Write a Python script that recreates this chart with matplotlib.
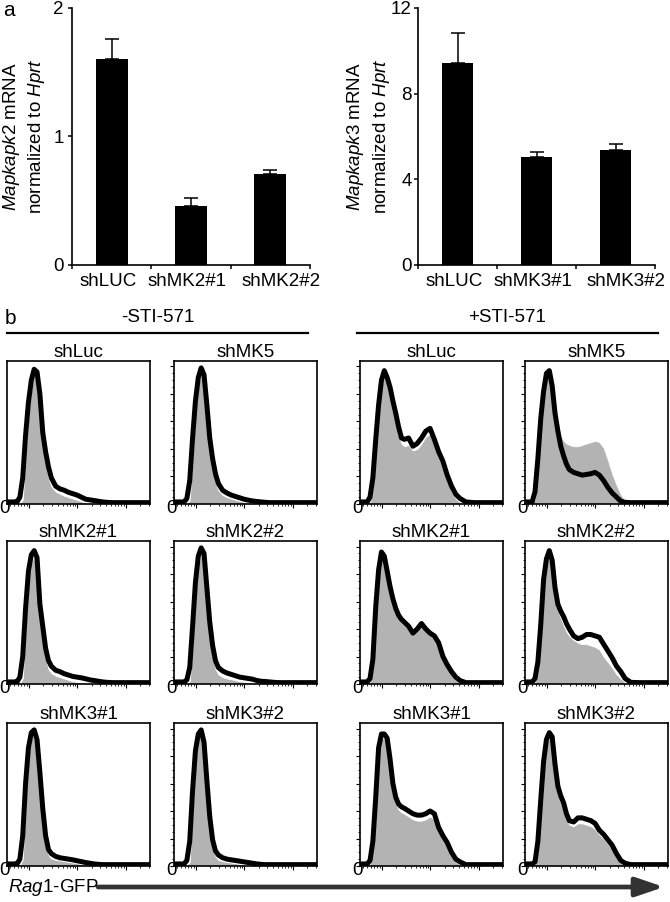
import numpy as np
import matplotlib
matplotlib.use('Agg')
import matplotlib.pyplot as plt
from matplotlib.lines import Line2D
from matplotlib.patches import FancyArrowPatch
from matplotlib.ticker import LogLocator, MultipleLocator, NullFormatter, FixedLocator

plt.rcParams['font.family'] = 'Liberation Sans'
plt.rcParams['mathtext.fontset'] = 'custom'
plt.rcParams['mathtext.rm'] = 'Liberation Sans'
plt.rcParams['mathtext.it'] = 'Liberation Sans:italic'
plt.rcParams['font.size'] = 13.5

# ---- panel a: qPCR ----
mk2_groups = ['shLUC', 'shMK2#1', 'shMK2#2']
mk2_mean = [1.60, 0.46, 0.71]
mk2_err = [0.16, 0.06, 0.03]

mk3_groups = ['shLUC', 'shMK3#1', 'shMK3#2']
mk3_mean = [9.45, 5.05, 5.35]
mk3_err = [1.40, 0.22, 0.30]

# ---- panel b: Rag1-GFP histograms (% of max) ----
hist_titles = ['shLuc', 'shMK5', 'shMK2#1', 'shMK2#2', 'shMK3#1', 'shMK3#2']
block_titles = ['-STI-571', '+STI-571']

# bin position as fraction of the displayed (log) GFP range
gfp_pos = [0.00, 0.05, 0.07, 0.09, 0.11, 0.13, 0.15, 0.17, 0.19, 0.21, 0.23,
           0.25, 0.27, 0.29, 0.31, 0.34, 0.37, 0.40, 0.43, 0.46, 0.49, 0.52,
           0.55, 0.58, 0.61, 0.64, 0.67, 0.70, 0.74, 0.80, 0.90, 1.00]
GFP_LO, GFP_HI = 1.55, 4.5   # log10 limits of the axis

minus_black = [
    [1.5, 1.5, 1.5, 5, 19, 50, 74, 90, 98, 96, 80, 52, 38, 27, 19, 13, 11, 10, 8.5, 7.5, 6.5, 5, 3.5, 3, 2.5, 2, 1.5, 1.2, 1, 1, 1, 1],
    [1.5, 1.5, 1.5, 4, 17, 48, 75, 92, 99, 94, 72, 48, 33, 22, 15, 10, 8, 6.5, 5.5, 4.5, 3.5, 2.8, 2.2, 1.8, 1.5, 1.2, 1, 1, 1, 1, 1, 1],
    [1.5, 1.5, 1.5, 5, 20, 55, 82, 94, 97, 92, 58, 42, 26, 17, 13, 10, 9, 7.5, 6.5, 5.5, 5, 4.5, 3.8, 3, 2.5, 2, 1.5, 1.2, 1, 1, 1, 1],
    [1.5, 1.5, 1.5, 3, 12, 42, 74, 93, 99, 95, 70, 45, 28, 17, 12, 9.5, 8, 7, 6, 5, 4.5, 4, 3.5, 2.5, 2, 1.8, 1.5, 1.2, 1, 1, 1, 1],
    [1.5, 1.5, 1.5, 5, 22, 60, 86, 97, 99, 92, 68, 42, 22, 12, 9, 7, 6, 5.5, 5, 4.5, 3.8, 3.2, 2.5, 2, 1.5, 1.2, 1, 1, 1, 1, 1, 1],
    [1.5, 1.5, 1.5, 4, 18, 55, 84, 96, 99, 90, 62, 36, 19, 11, 8, 6, 5, 4.5, 4, 3.5, 3, 2.5, 2, 1.5, 1.2, 1, 1, 1, 1, 1, 1, 1],
]
minus_gray = [
    [0, 0, 0, 0.5, 3, 35, 64, 84, 95, 94, 76, 46, 30, 19, 13, 9, 7.5, 6, 5, 4, 3, 2, 1, 0.5, 0, 0, 0, 0, 0, 0, 0, 0],
    [0, 0, 0, 0.5, 3, 34, 66, 86, 95, 90, 68, 42, 27, 16, 10, 6.5, 5, 4, 3, 2.2, 1.5, 1, 0.5, 0, 0, 0, 0, 0, 0, 0, 0, 0],
    [0, 0, 0, 0.5, 4, 40, 72, 88, 93, 88, 52, 34, 19, 11, 8, 6, 5, 4, 3, 2, 1.5, 1, 0.5, 0, 0, 0, 0, 0, 0, 0, 0, 0],
    [0, 0, 0, 0, 2, 28, 64, 86, 95, 90, 64, 38, 21, 11, 7, 5, 4, 3.5, 2.8, 2, 1.5, 1, 0.5, 0, 0, 0, 0, 0, 0, 0, 0, 0],
    [0, 0, 0, 0.5, 5, 45, 78, 93, 96, 88, 62, 35, 16, 8, 5.5, 4.5, 4, 3.5, 3, 2.5, 2, 1.5, 1, 0.5, 0, 0, 0, 0, 0, 0, 0, 0],
    [0, 0, 0, 0.5, 3, 40, 76, 92, 96, 86, 55, 30, 13, 7, 4.5, 3.5, 3, 2.5, 2, 1.5, 1, 0.5, 0, 0, 0, 0, 0, 0, 0, 0, 0, 0],
]
plus_black = [
    [1.5, 1.5, 5, 19, 47, 72, 90, 97, 92, 85, 75, 66, 56, 48, 47, 48, 42, 44, 48, 53, 55, 47, 38, 31, 21, 13, 7, 4, 1.5, 1, 1, 1],
    [1.5, 1.5, 9, 33, 62, 82, 95, 97, 86, 66, 53, 42, 35, 29, 25, 23, 22, 21, 21.5, 22, 23, 21, 17, 12, 8, 5, 2, 1.2, 1, 1, 1, 1],
    [1.5, 1.5, 4, 18, 56, 83, 96, 93, 82, 71, 62, 55, 50, 47, 45, 42, 37, 40, 44, 40, 37, 35, 30, 20, 14, 9, 5, 2.5, 1, 1, 1, 1],
    [1.5, 1.5, 4, 16, 43, 76, 91, 97, 90, 70, 58, 53, 49, 44, 40, 35, 33, 34, 36, 36, 35, 34, 29, 24, 19, 13, 9, 4, 1.2, 1, 1, 1],
    [1.5, 1.5, 4, 18, 50, 86, 96, 96, 93, 78, 60, 50, 45, 43, 42, 40, 38, 37, 37, 38, 40, 38, 28, 22, 17, 10, 5, 3, 1, 1, 1, 1],
    [1.5, 1.5, 3, 18, 48, 76, 92, 97, 94, 74, 58, 51, 46, 38, 33, 32, 35, 35, 34, 33, 31, 26, 23, 19, 15, 9, 4, 2, 1, 1, 1, 1],
]
plus_gray = [
    [0, 0, 1, 12, 38, 66, 86, 93, 88, 80, 70, 60, 50, 44, 42, 43, 39, 40, 44, 49, 51, 43, 34, 26, 17, 9, 4, 1, 0, 0, 0, 0],
    [0, 0, 4, 26, 56, 78, 92, 94, 85, 70, 58, 50, 46, 44, 43, 42, 42, 43, 44, 45, 46, 45, 41, 32, 22, 14, 7, 3, 0, 0, 0, 0],
    [0, 0, 1.5, 12, 50, 80, 93, 90, 80, 69, 60, 53, 48, 45, 43, 40, 37, 41, 45, 41, 36, 33, 28, 18, 12, 7, 3, 1, 0, 0, 0, 0],
    [0, 0, 1.5, 10, 38, 72, 88, 94, 88, 67, 54, 48, 43, 38, 35, 32, 30, 29, 29, 28, 27, 25, 20, 16, 12, 7, 4, 1, 0, 0, 0, 0],
    [0, 0, 1.5, 12, 44, 82, 93, 93, 90, 75, 56, 46, 41, 39, 38, 36, 34, 33, 33, 34, 36, 34, 25, 19, 14, 7, 3, 1, 0, 0, 0, 0],
    [0, 0, 1, 12, 42, 72, 89, 94, 91, 71, 55, 47, 42, 35, 30, 29, 31, 31, 30, 29, 27, 23, 20, 16, 12, 6, 2, 0.5, 0, 0, 0, 0],
]

W, H = 670, 902
fig = plt.figure(figsize=(W / 100, H / 100), dpi=100)


def px_axes(x0, y0, w, h):
    # pixel box (top-left origin) -> figure axes
    return fig.add_axes([x0 / W, 1 - (y0 + h) / H, w / W, h / H])


def bar_panel(ax, groups, mean, err, ymax, yticks, ylabel, tickpad, labx):
    x = np.arange(len(groups))
    ax.bar(x, mean, width=0.4, color='black')
    ax.errorbar(x, mean, yerr=[np.zeros(len(err)), err], fmt='none',
                ecolor='black', elinewidth=1.1, capsize=5, capthick=1.1)
    ax.set_xlim(-0.5, len(groups) - 0.5)
    ax.set_ylim(0, ymax)
    ax.set_yticks(yticks)
    ax.xaxis.set_major_locator(FixedLocator(np.arange(len(groups) + 1) - 0.5))
    ax.xaxis.set_major_formatter(NullFormatter())
    # labels sit a little off the bar centres, as in the original layout
    ax.set_xticks(x + np.array([-0.04, -0.05, 0.13]), minor=True)
    ax.set_xticklabels(groups, minor=True)
    ax.tick_params(axis='x', which='minor', length=0, pad=6)
    ax.tick_params(axis='both', which='major', direction='out', length=3, width=1.1)
    ax.tick_params(axis='y', pad=tickpad)
    for s in ['top', 'right']:
        ax.spines[s].set_visible(False)
    for s in ['left', 'bottom']:
        ax.spines[s].set_linewidth(1.2)
    ax.set_ylabel(ylabel, linespacing=1.3)
    ax.yaxis.set_label_coords(labx, 0.5)


ax1 = px_axes(72, 8, 238, 257)
bar_panel(ax1, mk2_groups, mk2_mean, mk2_err, 2, [0, 1, 2],
          '$\\it{Mapkapk2}$ mRNA\nnormalized to $\\it{Hprt}$', 3, -0.105)
ax2 = px_axes(418, 8, 237, 257)
bar_panel(ax2, mk3_groups, mk3_mean, mk3_err, 12, [0, 4, 8, 12],
          '$\\it{Mapkapk3}$ mRNA\nnormalized to $\\it{Hprt}$', 1.5, -0.11)

fig.text(3 / W, 1 - 10 / H, 'a', fontsize=15, va='center')
fig.text(5 / W, 1 - 318 / H, 'b', fontsize=15, va='center')

# ---- histograms ----
col_px = [7, 174, 360, 525]
row_px = [361, 541, 723]
box = 143
xs = 10 ** (GFP_LO + np.array(gfp_pos) * (GFP_HI - GFP_LO))

blocks = [(minus_gray, minus_black), (plus_gray, plus_black)]
for b, (gray_set, black_set) in enumerate(blocks):
    for k, title in enumerate(hist_titles):
        r, c = divmod(k, 2)
        ax = px_axes(col_px[2 * b + c], row_px[r], box, box)
        ax.fill_between(xs, gray_set[k], color='#b3b3b3', edgecolor='white', lw=0.6)
        ax.plot(xs, black_set[k], color='black', lw=3.6, solid_joinstyle='round')
        ax.set_xscale('log')
        ax.set_xlim(10 ** GFP_LO, 10 ** GFP_HI)
        ax.set_ylim(0, 104)
        ax.xaxis.set_major_locator(LogLocator(base=10))
        ax.xaxis.set_minor_locator(LogLocator(base=10, subs=np.arange(2, 10)))
        ax.xaxis.set_major_formatter(NullFormatter())
        ax.xaxis.set_minor_formatter(NullFormatter())
        ax.yaxis.set_major_locator(MultipleLocator(20))
        ax.yaxis.set_minor_locator(MultipleLocator(5))
        ax.yaxis.set_major_formatter(NullFormatter())
        ax.tick_params(which='major', direction='out', length=3, width=0.8)
        ax.tick_params(which='minor', direction='out', length=1.5, width=0.6)
        if 2 * b + c == 0:
            ax.tick_params(axis='y', which='both', length=0)
        for s in ax.spines.values():
            s.set_linewidth(1.2)
        ax.set_title(title, pad=3, fontsize=13.5)
        ax.text(-0.02, -0.03, '0', transform=ax.transAxes, ha='center', va='center',
                fontsize=13.5)

# block headers
for b, title in enumerate(block_titles):
    x0, x1 = [(7, 308), (357, 658)][b]
    fig.text((x0 + x1) / 2 / W, 1 - 317 / H, title, ha='center', va='center')
    fig.add_artist(Line2D([x0 / W, x1 / W], [1 - 333 / H] * 2,
                          transform=fig.transFigure, color='black', lw=1.6))

# Rag1-GFP arrow
fig.text(8 / W, 1 - 887 / H, '$\\it{Rag1}$-GFP', va='center')
fig.add_artist(FancyArrowPatch((98 / W, 1 - 887 / H), (664 / W, 1 - 887 / H),
                               transform=fig.transFigure,
                               arrowstyle='-|>,head_length=0.5,head_width=0.17',
                               mutation_scale=34, lw=3.4, color='#333333',
                               shrinkA=0, shrinkB=0))

fig.savefig('out.png', dpi=100)
